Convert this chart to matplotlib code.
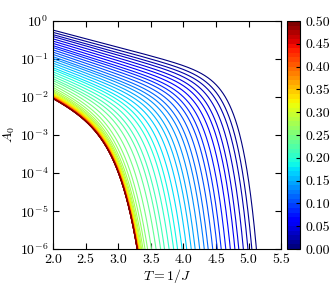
import numpy as np
import matplotlib
matplotlib.use("Agg")
import matplotlib.pyplot as plt
from matplotlib.colors import Normalize

plt.rcParams['font.family'] = 'serif'
plt.rcParams['font.serif'] = ['cmr10']
plt.rcParams['mathtext.fontset'] = 'cm'
plt.rcParams['axes.formatter.use_mathtext'] = True
plt.rcParams['axes.unicode_minus'] = False
plt.rcParams['font.size'] = 10

# colour parameter of each curve (colorbar values)
h_values = [0.00, 0.01, 0.02, 0.03, 0.04, 0.05, 0.06, 0.07, 0.08, 0.09,
            0.10, 0.11, 0.12, 0.13, 0.14, 0.15, 0.16, 0.17, 0.18, 0.19,
            0.20, 0.21, 0.22, 0.23, 0.24, 0.25, 0.26, 0.27, 0.28, 0.29,
            0.30, 0.31, 0.32, 0.33, 0.34, 0.35, 0.36, 0.37, 0.38, 0.39,
            0.40, 0.41, 0.42, 0.43, 0.44, 0.45, 0.46, 0.47, 0.48, 0.49, 0.50]

# log10(A0) read at T = 2.0 for each curve
start_log = [-0.24, -0.30, -0.36, -0.41, -0.47, -0.53, -0.59, -0.65, -0.70, -0.76,
             -0.82, -0.88, -0.94, -0.99, -1.05, -1.11, -1.17, -1.23, -1.28, -1.34,
             -1.40, -1.46, -1.52, -1.57, -1.63, -1.69, -1.75, -1.80, -1.84, -1.87,
             -1.90, -1.92, -1.94, -1.955, -1.97, -1.98, -1.99, -2.00, -2.005, -2.01,
             -2.015, -2.02, -2.025, -2.03, -2.03, -2.035, -2.035, -2.04, -2.04, -2.04, -2.045]

# temperature where each curve reaches A0 = 1e-6
end_T = [5.12, 5.05, 4.99, 4.92, 4.85, 4.79, 4.72, 4.65, 4.58, 4.52,
         4.45, 4.38, 4.32, 4.25, 4.18, 4.12, 4.05, 3.98, 3.91, 3.85,
         3.78, 3.71, 3.65, 3.58, 3.51, 3.45, 3.41, 3.38, 3.36, 3.345,
         3.335, 3.325, 3.32, 3.315, 3.31, 3.307, 3.304, 3.302, 3.30, 3.298,
         3.297, 3.296, 3.295, 3.294, 3.293, 3.292, 3.291, 3.291, 3.290, 3.290, 3.29]

x_ticks = [2.0, 2.5, 3.0, 3.5, 4.0, 4.5, 5.0, 5.5]
cbar_ticks = [0.00, 0.05, 0.10, 0.15, 0.20, 0.25, 0.30, 0.35, 0.40, 0.45, 0.50]


def decay(T, s, te):
    # log10(A0): gentle slope at low T, steepening towards the 1e-6 crossing at te
    r = (te - 3.29) / (5.12 - 3.29)
    slope = 0.8 - 0.35 * r
    end_slope = 10.0 + 9.0 * r
    total = s + 6.0
    k = total - slope * (te - 2.0)
    w = k / (end_slope - slope)
    bend = lambda t: np.exp((t - te) / w) - np.exp((2.0 - te) / w)
    k = k / bend(te)
    return s - slope * (T - 2.0) - k * bend(T)


fig = plt.figure(figsize=(3.3, 3.0), dpi=100)
ax = fig.add_axes([0.161, 0.17, 0.691, 0.76])
cax = fig.add_axes([0.870, 0.17, 0.040, 0.76])

cmap = plt.get_cmap('jet', 50)
norm = Normalize(vmin=0.0, vmax=0.5)

T = np.linspace(2.0, 5.5, 1500)
for h, s, te in zip(h_values, start_log, end_T):
    logA = decay(T, s, te)
    ax.plot(T, 10.0 ** logA, color=cmap(norm(h)), lw=0.8)

ax.set_yscale('log')
ax.set_xlim(2.0, 5.5)
ax.set_ylim(1e-6, 1e0)
ax.set_xticks(x_ticks)
ax.set_xticklabels(['%.1f' % t for t in x_ticks])
ax.minorticks_off()
ax.tick_params(direction='in', top=True, right=True, length=4, width=0.8)
ax.set_xlabel('$T=1/J$', labelpad=1)
ax.set_ylabel('$A_0$', labelpad=2)

sm = plt.cm.ScalarMappable(cmap=cmap, norm=norm)
cb = fig.colorbar(sm, cax=cax, ticks=cbar_ticks)
cb.ax.set_yticklabels(['%.2f' % t for t in cbar_ticks])
cb.ax.tick_params(direction='in', length=3, width=0.8)

fig.savefig('out.png', dpi=100)
